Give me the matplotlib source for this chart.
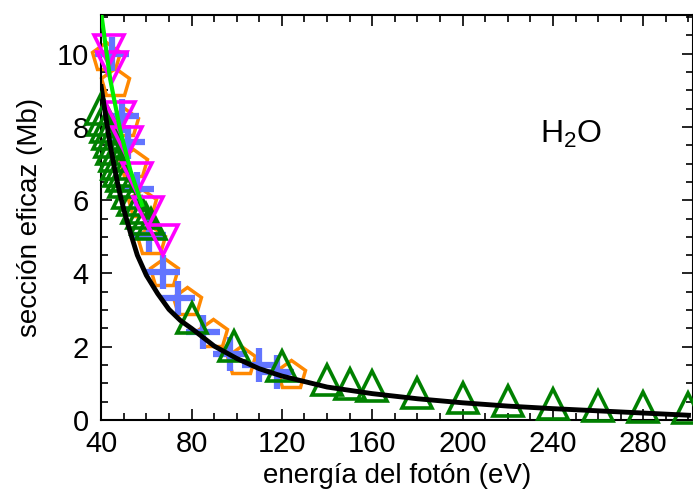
import numpy as np
import matplotlib.pyplot as plt
from matplotlib.ticker import MultipleLocator

# theory curve (black)
theory_e = [40, 42, 44, 46, 48, 50, 53, 56, 60, 65, 70, 75, 80, 90, 100, 110, 120, 140, 160, 180, 200, 220, 240, 260, 280, 300]
theory_s = [9.1, 8.3, 7.5, 6.85, 6.25, 5.75, 5.1, 4.5, 3.95, 3.45, 3.02, 2.72, 2.5, 2.02, 1.68, 1.4, 1.2, 0.9, 0.72, 0.58, 0.47, 0.38, 0.31, 0.25, 0.19, 0.13]

# lime line
lime_e = [39.5, 40.4, 44, 48.4, 53, 58.1]
lime_s = [11.3, 10.93, 9.3, 7.92, 6.8, 5.87]

# dark green triangles
tri_e = [40, 41, 42, 43, 44, 45, 46, 47, 48, 49, 50, 52, 54, 56, 58, 60, 62,
         80, 99, 120, 140, 150, 160, 180, 200, 220, 240, 260, 280, 300]
tri_s = [8.5, 8.2, 8.0, 7.8, 7.6, 7.4, 7.2, 7.0, 6.8, 6.65, 6.5, 6.2, 6.0, 5.8, 5.65, 5.5, 5.35,
         2.78, 2.02, 1.47, 1.09, 0.98, 0.92, 0.73, 0.59, 0.51, 0.44, 0.37, 0.36, 0.33]

# orange pentagons
pent_e = [42, 46, 50, 54, 58, 62, 68, 78, 89.5, 102, 124]
pent_s = [9.9, 9.2, 8.1, 7.0, 5.9, 4.9, 4.0, 3.22, 2.35, 1.62, 1.23]

# blue plus
plus_e = [45, 49, 52, 56, 61, 67.5, 74, 85, 97, 110, 118]
plus_s = [10.0, 8.3, 7.6, 6.3, 5.05, 4.05, 3.33, 2.4, 1.8, 1.5, 1.3]

# magenta down triangles
vtri_e = [43.5, 45, 48.4, 51.5, 55.9, 60.8, 67.2]
vtri_s = [10.1, 9.64, 8.28, 7.6, 6.6, 5.68, 4.92]


def main():
    plt.rcParams['font.family'] = ['Liberation Sans', 'DejaVu Sans']
    plt.rcParams['mathtext.fontset'] = 'custom'
    plt.rcParams['mathtext.rm'] = 'Liberation Sans'

    fig = plt.figure(figsize=(6.93, 4.91), dpi=100)
    ax = fig.add_axes([0.146, 0.1446, 0.854, 0.8244])

    ax.plot(pent_e, pent_s, ls='none', marker='p', ms=21, mfc='none',
            mec='#ff8800', mew=2.5, clip_on=False, zorder=2)
    ax.plot(plus_e, plus_s, ls='none', marker='+', ms=24, mec='#6275ff',
            mew=4.5, clip_on=False, zorder=3)
    ax.plot(tri_e, tri_s, ls='none', marker='^', ms=22, mfc='none',
            mec='#008000', mew=2.6, clip_on=False, zorder=4)
    ax.plot(vtri_e, vtri_s, ls='none', marker='v', ms=22, mfc='none',
            mec='#ff00ff', mew=2.6, clip_on=False, zorder=5)
    ax.plot(theory_e, theory_s, color='black', lw=3.5, zorder=6)
    ax.plot(lime_e, lime_s, color='#00ee00', lw=3, zorder=7)

    ax.set_xlim(40, 302)
    ax.set_ylim(0, 11.05)
    ax.xaxis.set_major_locator(MultipleLocator(40))
    ax.xaxis.set_minor_locator(MultipleLocator(10))
    ax.yaxis.set_major_locator(MultipleLocator(2))
    ax.yaxis.set_minor_locator(MultipleLocator(0.5))
    ax.tick_params(which='both', direction='in', top=True, right=True, width=1.2)
    ax.tick_params(which='major', length=8, labelsize=21)
    ax.tick_params(axis='x', which='major', pad=7)
    ax.tick_params(axis='y', which='major', pad=9)
    ax.tick_params(which='minor', length=5)
    for s in ax.spines.values():
        s.set_linewidth(1.5)

    ax.set_xlabel("energía del fotón (eV)", fontsize=20, labelpad=4)
    ax.set_ylabel("sección eficaz (Mb)", fontsize=20, labelpad=10)
    ax.text(248, 7.8, r"$\mathrm{H_2O}$", fontsize=23, ha='center', va='center')

    fig.savefig("out.png", dpi=100)


if __name__ == "__main__":
    main()
